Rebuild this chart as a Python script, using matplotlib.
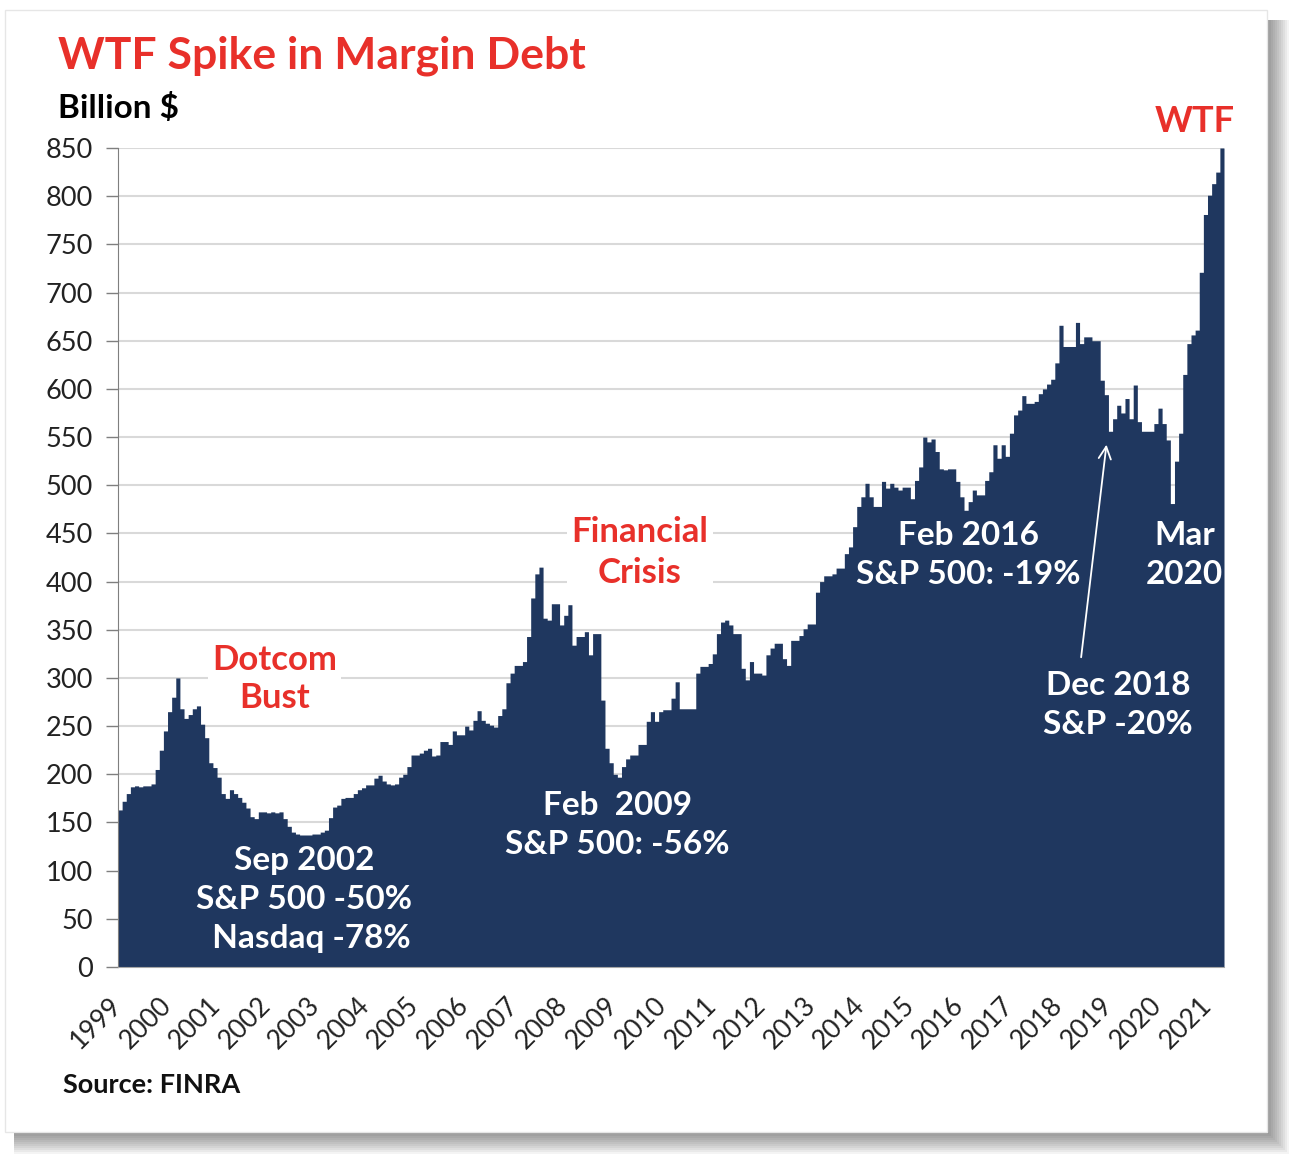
import numpy as np
import matplotlib.pyplot as plt
import matplotlib.transforms as mtransforms
from matplotlib.patches import Rectangle

# --- data: monthly margin debt, billion $, Jan 1999 .. Apr 2021 ---
margin_debt = [
    163, 172, 180, 187, 188, 187, 188, 188, 190, 205, 225, 245,   # 1999
    265, 280, 300, 268, 258, 262, 268, 271, 252, 238, 212, 207,   # 2000
    197, 180, 175, 184, 180, 176, 171, 165, 156, 154, 161, 161,   # 2001
    160, 161, 160, 161, 154, 146, 140, 138, 137, 137, 137, 138,   # 2002
    138, 140, 142, 155, 166, 168, 175, 176, 176, 180, 184, 186,   # 2003
    189, 189, 196, 199, 193, 190, 189, 190, 197, 200, 208, 220,   # 2004
    220, 222, 225, 227, 219, 220, 234, 234, 231, 245, 241, 241,   # 2005
    250, 246, 256, 266, 256, 253, 251, 249, 261, 268, 295, 305,   # 2006
    313, 313, 317, 343, 383, 408, 415, 362, 360, 377, 377, 355,   # 2007
    365, 376, 334, 343, 343, 348, 324, 346, 346, 277, 227, 212,   # 2008
    200, 197, 208, 216, 220, 220, 231, 231, 255, 265, 255, 265,   # 2009
    267, 267, 279, 296, 268, 268, 268, 268, 305, 312, 312, 315,   # 2010
    325, 346, 358, 360, 355, 346, 346, 310, 298, 317, 305, 305,   # 2011
    303, 324, 331, 336, 336, 320, 313, 339, 339, 344, 351, 356,   # 2012
    356, 389, 400, 406, 406, 408, 414, 414, 429, 436, 457, 478,   # 2013
    488, 502, 488, 478, 478, 504, 497, 502, 498, 495, 498, 498,   # 2014
    486, 505, 519, 550, 545, 548, 535, 517, 516, 517, 517, 504,   # 2015
    488, 474, 483, 495, 490, 490, 505, 514, 542, 528, 542, 530,   # 2016
    554, 573, 578, 593, 585, 585, 587, 595, 600, 605, 610, 627,   # 2017
    666, 644, 644, 644, 669, 647, 654, 654, 650, 650, 609, 594,   # 2018
    556, 569, 583, 575, 590, 569, 604, 566, 556, 556, 556, 564,   # 2019
    580, 564, 547, 481, 525, 554, 615, 647, 656, 661, 721, 781,   # 2020
    801, 813, 825, 850,                                           # 2021
]
years = [str(y) for y in range(1999, 2022)]
y_ticks = list(range(0, 851, 50))

W, H = 1294, 1159
navy = '#1f375f'
red = '#e8302a'

plt.rcParams['font.family'] = ['Lato', 'DejaVu Sans']

fig = plt.figure(figsize=(W / 100, H / 100), dpi=100)

def px_rect(x0, y0, x1, y1, **kw):
    # rectangle given in image pixels (origin top-left)
    return Rectangle((x0 / W, 1 - y1 / H), (x1 - x0) / W, (y1 - y0) / H,
                     transform=fig.transFigure, **kw)

# drop shadow + white card
for d in range(2, 24, 2):
    fig.patches.append(px_rect(14, 20, 1267 + d, 1132 + d, facecolor='black',
                               edgecolor='none', alpha=0.045, zorder=-3))
fig.patches.append(px_rect(5, 10, 1267, 1132, facecolor='white',
                           edgecolor='#e6e6e6', linewidth=1, zorder=-2))

ax = fig.add_axes([118 / W, 1 - 967 / H, (1224 - 118) / W, (967 - 148) / H])
ax.set_facecolor('none')

# stepped area (one flat step per month)
n = len(margin_debt)
edges = np.arange(n + 1)
vals = np.append(margin_debt, margin_debt[-1])
ax.fill_between(edges, 0, vals, step='post', color=navy, linewidth=0, zorder=2)

ax.set_xlim(0, n)
ax.set_ylim(0, 850)
ax.set_yticks(y_ticks)
ax.set_xticks(np.arange(0, len(years) * 12, 12))
ax.set_xticklabels(years, rotation=45, ha='right', va='center',
                   rotation_mode='anchor', fontsize=19, color='#222222')
shift = mtransforms.ScaledTranslation(10 / 72, 0, fig.dpi_scale_trans)
for lbl in ax.get_xticklabels():
    lbl.set_transform(lbl.get_transform() + shift)
ax.tick_params(axis='x', length=0, pad=25)
ax.tick_params(axis='y', length=9, width=1, color='#7f7f7f', pad=9,
               labelsize=19.5, labelcolor='#222222')
ax.yaxis.grid(True, color='#d9d9d9', linewidth=1.5)
ax.set_axisbelow(True)
for side in ['top', 'right']:
    ax.spines[side].set_visible(False)
ax.spines['left'].set_color('#7f7f7f')
ax.spines['bottom'].set_color('#a6a6a6')
ax.spines['left'].set_zorder(3)
ax.spines['bottom'].set_zorder(3)

# titles
fig.text(58 / W, 1 - 56 / H, 'WTF Spike in Margin Debt', color=red,
         fontsize=32, fontweight='bold', ha='left', va='center')
fig.text(58 / W, 1 - 108 / H, 'Billion $', color='black',
         fontsize=24, fontweight='bold', ha='left', va='center')
fig.text(63 / W, 1 - 1085 / H, 'Source: FINRA', color='#111111',
         fontsize=19.5, fontweight='bold', ha='left', va='center')

# red annotations with white boxes
red_box = dict(facecolor='white', edgecolor='none', pad=3)
ax.text(38, 299, 'Dotcom\nBust', color=red, fontsize=25, fontweight='bold',
        ha='center', va='center', linespacing=1.25, bbox=red_box, zorder=3)
ax.text(126.5, 430, 'Financial\nCrisis', color=red, fontsize=25, fontweight='bold',
        ha='center', va='center', linespacing=1.35, bbox=red_box, zorder=3)
ax.text(261, 877, 'WTF', color=red, fontsize=26, fontweight='bold',
        ha='center', va='center', clip_on=False, zorder=3)

# white annotations on the area
white_notes = [
    (45, 70, 'Sep 2002\nS&P 500 -50%\n  Nasdaq -78%'),
    (121, 147, 'Feb  2009\nS&P 500: -56%'),
    (206, 428, 'Feb 2016\nS&P 500: -19%'),
    (258.5, 428, 'Mar\n2020'),
    (242.3, 272, 'Dec 2018\nS&P -20%'),
]
for mx, vy, txt in white_notes:
    ax.text(mx, vy, txt, color='white', fontsize=24, fontweight='bold',
            ha='center', va='center', linespacing=1.42, zorder=3)

ax.annotate('', xy=(239.6, 545), xytext=(233.3, 318.6),
            arrowprops=dict(arrowstyle='->', color='white', lw=1.3,
                            mutation_scale=22), zorder=3)

fig.savefig('out.png', dpi=100, facecolor='white')
